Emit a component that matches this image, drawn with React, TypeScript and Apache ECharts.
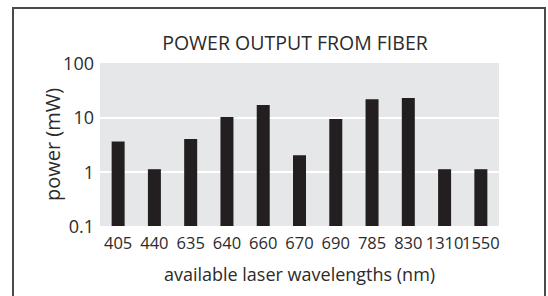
import React, { useEffect, useRef } from "react";
import * as echarts from "echarts";

const categories = ["405", "440", "635", "640", "660", "670", "690", "785", "830", "1310", "1550"];
const powerValues = [3.6, 1.11, 4.0, 10.1, 16.8, 2.0, 9.3, 21.6, 22.6, 1.11, 1.11];
const yTickLabels = ["0.1", "1", "10", "100"];

const FONT = "'Open Sans', 'Noto Sans', sans-serif";
const TEXT = "#2b2b2b";

export default function App() {
  const ref = useRef<HTMLDivElement>(null);
  useEffect(() => {
    if (!ref.current) return;
    const chart = echarts.init(ref.current, undefined, { renderer: "svg" });
    chart.setOption({
      animation: false,
      backgroundColor: "#ffffff",
      textStyle: { fontFamily: FONT },
      title: {
        text: "POWER OUTPUT FROM FIBER",
        left: 290,
        top: 27,
        textAlign: "center",
        textStyle: { fontFamily: FONT, fontSize: 19.5, fontWeight: "normal", color: TEXT },
      },
      graphic: [
        {
          type: "rect",
          shape: { x: 13, y: 8, width: 532, height: 300 },
          style: { fill: "none", stroke: "#4a4a4a", lineWidth: 2 },
          silent: true,
        },
      ],
      grid: {
        left: 100,
        right: 49,
        top: 63,
        bottom: 70,
        show: true,
        backgroundColor: "#e6e7e8",
        borderWidth: 0,
      },
      xAxis: {
        type: "category",
        data: categories,
        axisLine: { show: false },
        axisTick: { show: false },
        axisLabel: {
          interval: 0,
          margin: 8,
          fontSize: 16.5,
          color: TEXT,
          fontFamily: FONT,
        },
        name: "available laser wavelengths (nm)",
        nameLocation: "middle",
        nameGap: 39,
        nameMoveOverlap: false,
        nameTextStyle: { fontSize: 18, color: TEXT, fontFamily: FONT },
      },
      yAxis: {
        type: "log",
        logBase: 10,
        min: 0.1,
        max: 100,
        startValue: 0.1,
        axisLine: { show: false },
        axisTick: { show: false },
        axisLabel: {
          margin: 6,
          fontSize: 18,
          color: TEXT,
          fontFamily: FONT,
          formatter: (v: number) => {
            const idx = Math.round(Math.log10(v)) + 1;
            return yTickLabels[idx] ?? String(v);
          },
        },
        splitLine: {
          show: true,
          showMinLine: false,
          showMaxLine: false,
          lineStyle: { color: "#ffffff", width: 2 },
        },
        name: "power (mW)",
        nameLocation: "middle",
        nameRotate: 90,
        nameGap: 38,
        nameMoveOverlap: false,
        nameTextStyle: { fontSize: 20, color: TEXT, fontFamily: FONT },
      },
      series: [
        {
          type: "bar",
          data: powerValues,
          barWidth: 13,
          itemStyle: { color: "#231f20" },
        },
      ],
    });
    return () => chart.dispose();
  }, []);
  return (
    <div
      ref={ref}
      style={{ position: "absolute", left: 0, top: 0, width: 548, height: 296 }}
    />
  );
}
